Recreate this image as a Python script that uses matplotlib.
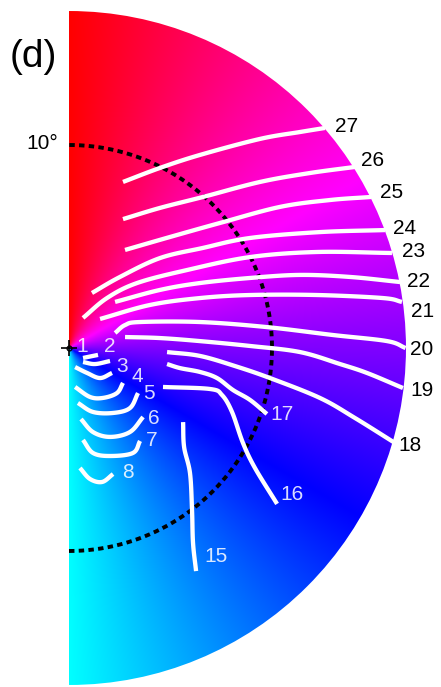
import numpy as np
import matplotlib
matplotlib.use("Agg")
import matplotlib.pyplot as plt
from matplotlib.patches import Wedge
from matplotlib.colors import hsv_to_rgb

plt.rcParams['font.family'] = ['Liberation Sans', 'DejaVu Sans']

# ---- data (degrees of visual field; x to the right, y up) ----
disk_radius = 16.6
ring_radius = 10.0
ring_label = "10°"
panel_label = "(d)"

line_ids = [1, 2, 3, 4, 5, 6, 7, 8, 15, 16, 17, 18, 19, 20, 21, 22, 23, 24, 25, 26, 27]

line_x = {
    1: [0.69, 1.43],
    2: [0.69, 1.28, 2.02],
    3: [0.30, 0.89, 1.53, 2.12],
    4: [0.30, 1.03, 1.67, 2.36, 2.66],
    5: [0.44, 1.18, 2.17, 3.00, 3.40],
    6: [0.59, 1.18, 2.02, 3.00, 3.65],
    7: [0.69, 1.18, 2.02, 3.15, 3.50],
    8: [0.54, 1.03, 1.63, 2.17],
    15: [5.62, 5.67, 5.96, 6.06, 6.11, 6.26],
    16: [4.63, 6.95, 7.54, 8.03, 8.57, 9.16, 10.25],
    17: [4.83, 5.47, 6.45, 7.29, 8.08, 8.92, 9.75],
    18: [4.83, 6.45, 8.18, 9.90, 12.36, 14.09, 16.06],
    19: [2.76, 4.48, 6.45, 8.92, 11.38, 13.35, 14.68, 16.45],
    20: [2.27, 2.76, 3.50, 6.45, 9.75, 13.00, 15.67, 16.58],
    21: [1.53, 3.99, 6.45, 8.92, 12.22, 15.47, 16.40],
    22: [2.27, 4.48, 6.45, 8.92, 11.38, 13.84, 16.31],
    23: [0.69, 1.87, 3.35, 5.81, 8.92, 12.22, 15.91],
    24: [1.13, 2.51, 4.48, 6.60, 8.92, 12.36, 15.57],
    25: [2.76, 4.98, 7.44, 10.39, 12.86, 14.88],
    26: [2.66, 4.48, 6.60, 9.41, 11.87, 14.09],
    27: [2.66, 4.48, 6.45, 9.41, 11.38, 12.61],
}
line_y = {
    1: [-0.49, -0.34],
    2: [-0.69, -0.79, -0.64],
    3: [-0.94, -1.23, -1.48, -1.23],
    4: [-1.92, -2.41, -2.46, -2.22, -1.72],
    5: [-2.71, -3.15, -3.20, -2.96, -2.22],
    6: [-3.50, -4.14, -4.38, -4.14, -3.40],
    7: [-4.53, -5.17, -5.32, -5.17, -4.58],
    8: [-5.91, -6.45, -6.60, -6.21],
    15: [-3.65, -4.88, -6.16, -7.98, -9.61, -10.99],
    16: [-1.92, -2.02, -2.32, -3.15, -4.68, -5.91, -7.68],
    17: [-0.79, -0.99, -1.18, -1.48, -2.07, -2.56, -3.25],
    18: [-0.20, -0.39, -0.89, -1.48, -2.46, -3.45, -4.68],
    19: [0.54, 0.49, 0.34, 0.10, -0.20, -0.79, -1.23, -1.97],
    20: [0.74, 1.13, 1.28, 1.28, 1.03, 0.64, 0.34, 0.00],
    21: [1.43, 2.12, 2.46, 2.61, 2.61, 2.46, 2.27],
    22: [2.27, 2.86, 3.20, 3.45, 3.60, 3.50, 3.25],
    23: [1.48, 2.46, 3.20, 3.84, 4.48, 4.73, 4.68],
    24: [2.71, 3.50, 4.43, 4.93, 5.42, 5.71, 5.81],
    25: [4.83, 5.47, 6.16, 6.95, 7.29, 7.44],
    26: [6.35, 6.90, 7.44, 8.18, 8.62, 8.92],
    27: [8.18, 8.87, 9.51, 10.30, 10.64, 10.84],
}

label_x = {1: 0.64, 2: 2.02, 3: 2.61, 4: 3.35, 5: 3.94, 6: 4.19, 7: 4.09, 8: 2.91,
           15: 7.24, 16: 10.99, 17: 10.49, 18: 16.80, 19: 17.39, 20: 17.39,
           21: 17.44, 22: 17.24, 23: 16.95, 24: 16.55, 25: 15.91, 26: 14.93, 27: 13.65}
label_y = {1: 0.05, 2: 0.05, 3: -0.89, 4: -1.38, 5: -2.22, 6: -3.45, 7: -4.58, 8: -6.11,
           15: -10.25, 16: -7.24, 17: -3.30, 18: -4.78, 19: -2.07, 20: -0.05,
           21: 1.82, 22: 3.30, 23: 4.73, 24: 5.91, 25: 7.68, 26: 9.26, 27: 10.89}
dark_labels = [18, 19, 20, 21, 22, 23, 24, 25, 26, 27]


def smooth(xv, yv, per=12):
    """Catmull-Rom curve through the given points (for drawing only)."""
    p = np.column_stack([xv, yv]).astype(float)
    if len(p) < 3:
        return p[:, 0], p[:, 1]
    ext = np.vstack([2 * p[0] - p[1], p, 2 * p[-1] - p[-2]])
    out = []
    for i in range(1, len(ext) - 2):
        p0, p1, p2, p3 = ext[i - 1], ext[i], ext[i + 1], ext[i + 2]
        tt = np.linspace(0, 1, per, endpoint=False)[:, None]
        seg = 0.5 * ((2 * p1) + (-p0 + p2) * tt + (2 * p0 - 5 * p1 + 4 * p2 - p3) * tt ** 2
                     + (-p0 + 3 * p1 - 3 * p2 + p3) * tt ** 3)
        out.append(seg)
    out.append(p[-1][None, :])
    out = np.vstack(out)
    return out[:, 0], out[:, 1]


# ---- figure ----
W, H = 441, 687
scale = 20.3  # px per degree
cx, cy = 69, 348
fig = plt.figure(figsize=(W / 100, H / 100), dpi=100)
ax = fig.add_axes([0, 0, 1, 1])
ax.set_xlim(-cx / scale, (W - cx) / scale)
ax.set_ylim((cy - H) / scale, cy / scale)
ax.axis('off')

# colour half-disk: hue by polar angle
n = 800
xs = np.linspace(0, disk_radius, n // 2)
ys = np.linspace(-disk_radius, disk_radius, n)
X, Y = np.meshgrid(xs, ys)
theta = np.degrees(np.arctan2(Y, X))
hue = ((270 + theta) % 360) / 360.0
hsv = np.stack([hue, np.ones_like(hue), np.ones_like(hue)], axis=-1)
rgb = hsv_to_rgb(hsv)
im = ax.imshow(rgb, extent=[0, disk_radius, -disk_radius, disk_radius],
               origin='lower', interpolation='bilinear', zorder=1)
wedge = Wedge((0, 0), disk_radius, -90, 90, transform=ax.transData,
              facecolor='none', edgecolor='none')
ax.add_patch(wedge)
im.set_clip_path(wedge)

# dashed 10 deg ring
t = np.linspace(-np.pi / 2, np.pi / 2, 400)
ax.plot(ring_radius * np.cos(t), ring_radius * np.sin(t), color='black',
        lw=2.8, dashes=(1.4, 1.1), zorder=3)

# white lines
for k in line_ids:
    sx, sy = smooth(line_x[k], line_y[k])
    ax.plot(sx, sy, color='white', lw=3.1, solid_capstyle='butt',
            solid_joinstyle='round', zorder=4)

# labels
for k in line_ids:
    if k in dark_labels:
        col, a = 'black', 1.0
    else:
        col, a = 'white', 0.85
    ax.text(label_x[k], label_y[k], str(k), color=col, alpha=a, fontsize=15,
            ha='center', va='center', zorder=5)

# center crosshair
ax.plot([0], [0], marker='+', color='black', markersize=11, mew=1.2, zorder=6)
ax.plot([0], [0], marker='o', color='black', markersize=3.5, mfc='none', mew=0.9, zorder=6)

ax.text(-1.33, 10.05, ring_label, fontsize=15, ha='center', va='center', color='black')
ax.text(-1.77, 14.33, panel_label, fontsize=28, ha='center', va='center', color='black')

fig.savefig('out.png', dpi=100)
